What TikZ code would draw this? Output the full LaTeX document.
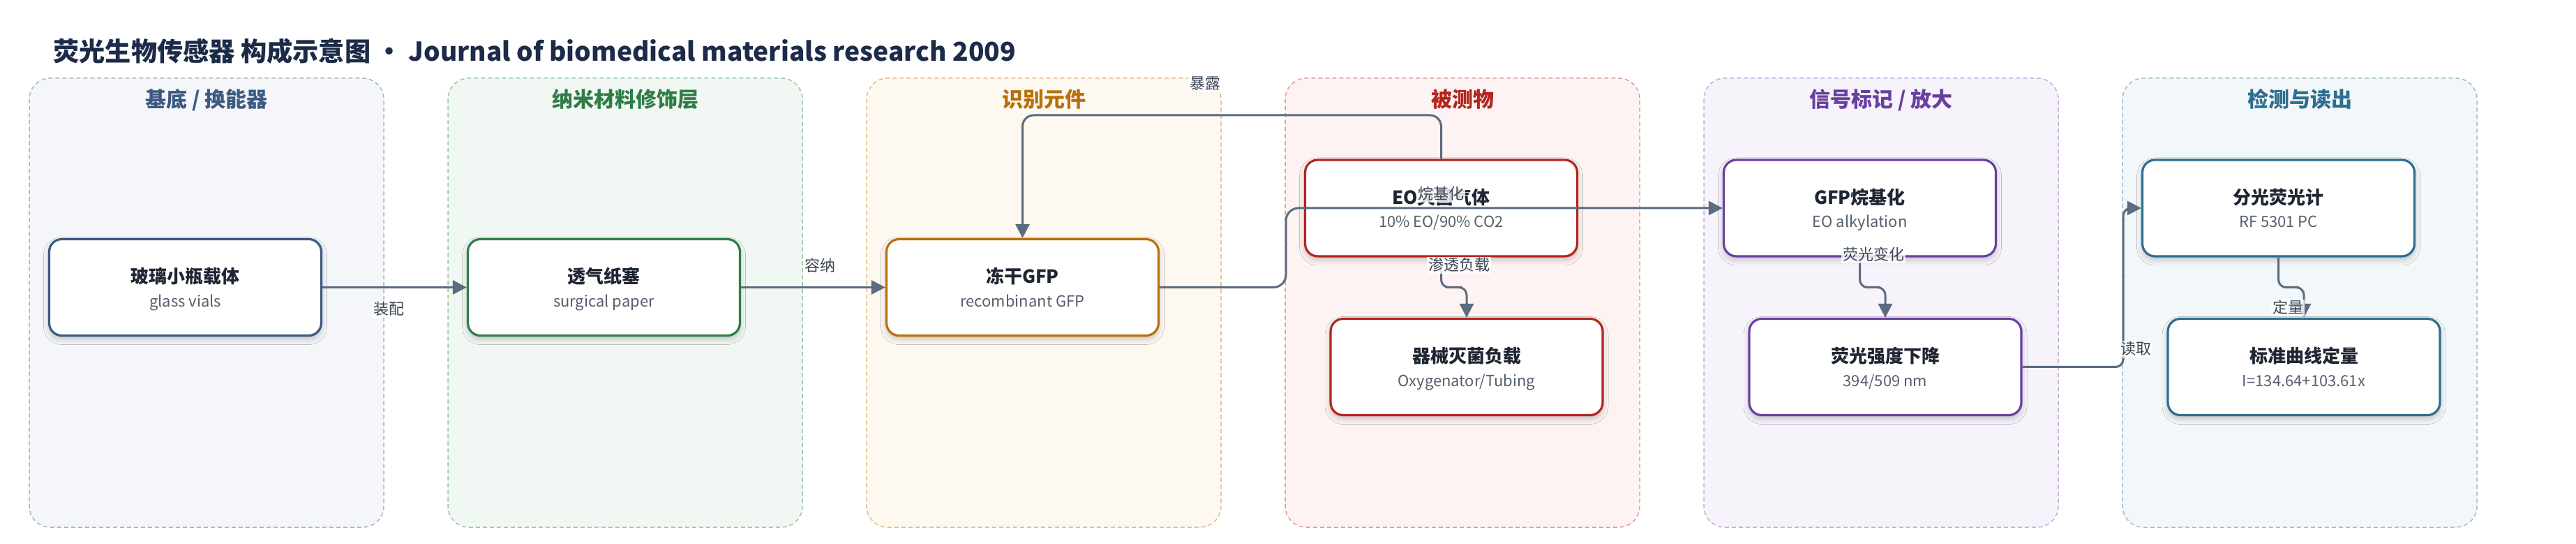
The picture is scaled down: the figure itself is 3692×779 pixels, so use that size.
\documentclass[tikz,border=0pt]{standalone}
\usepackage{fontspec}
\setmainfont{Noto Sans CJK SC}
\usetikzlibrary{arrows.meta,shadows.blur}
\definecolor{edgec}{HTML}{5B6B80}
\definecolor{labc}{HTML}{3B4656}
\definecolor{titlec}{HTML}{1E2633}
\definecolor{subc}{HTML}{555F6D}
\definecolor{headc}{HTML}{1B2B48}
\definecolor{fA}{HTML}{F4F6FA}\definecolor{dA}{HTML}{A8B5C8}\definecolor{mA}{HTML}{3D5A80}
\definecolor{fB}{HTML}{F1F8F3}\definecolor{dB}{HTML}{9CC9A9}\definecolor{mB}{HTML}{2E7D46}
\definecolor{fC}{HTML}{FDF8F0}\definecolor{dC}{HTML}{E2BE84}\definecolor{mC}{HTML}{B8700A}
\definecolor{fD}{HTML}{FDF3F2}\definecolor{dD}{HTML}{E39A98}\definecolor{mD}{HTML}{B3261E}
\definecolor{fE}{HTML}{F6F3FB}\definecolor{dE}{HTML}{C4AEE0}\definecolor{mE}{HTML}{6A3FA0}
\definecolor{fF}{HTML}{F2F7F9}\definecolor{dF}{HTML}{9EC0CC}\definecolor{mF}{HTML}{2E6E8E}
\tikzset{
 lanebox/.style={draw=#1, line width=0.75pt, dash pattern=on 3pt off 2pt, rounded corners=15pt},
 lanetitle/.style={font=\fontsize{15pt}{17pt}\selectfont\bfseries, text=#1, inner sep=0pt, text height=0.88em, text depth=0.12em},
 flowbox/.style={draw=#1, line width=1.6pt, fill=white, rounded corners=9pt, minimum width=195pt, minimum height=69pt, inner sep=0pt,
   blur shadow={shadow xshift=0pt, shadow yshift=-2.5pt, shadow blur radius=4pt, shadow opacity=22}},
 flowtitle/.style={font=\fontsize{13pt}{15pt}\selectfont\bfseries, text=titlec, inner sep=0pt, text height=0.88em, text depth=0.12em},
 flowsub/.style={font=\fontsize{11pt}{13pt}\selectfont, text=subc, inner sep=0pt, text height=0.75em, text depth=0.1em},
 conn/.style={draw=edgec, line width=1.5pt, -{Triangle[length=10pt,width=10pt]}, rounded corners=5.5pt},
 elabel/.style={fill=white, fill opacity=0.8, text opacity=1, text=labc, inner sep=1pt, font=\fontsize{11pt}{13pt}\selectfont, text height=0.88em, text depth=0.12em},
}
\newcommand{\FlowBox}[6]{%
  \node[flowbox=#4] (#1) at (#2,#3) {};
  \node[flowtitle] (#1t) at ([yshift=6.75pt]#1.center) {#5};
  \node[flowsub] (#1s) at ([yshift=-10.75pt]#1.center) {#6};
}
\begin{document}
\begin{tikzpicture}[x=0.5pt,y=-0.5pt]
\useasboundingbox[fill=white] (0,0) rectangle (3692,779);
% title
\node[anchor=west, inner sep=0pt, font=\fontsize{18.6pt}{20pt}\selectfont\bfseries, text=headc, text height=0.88em, text depth=0.12em] (head) at (76,80)
  {荧光生物传感器 构成示意图 · Journal of biomedical materials research 2009};
% lanes
\draw[lanebox=dA, fill=fA] (42,112) rectangle (550,755);
\draw[lanebox=dB, fill=fB] (642,112) rectangle (1150,755);
\draw[lanebox=dC, fill=fC] (1242,112) rectangle (1750,755);
\draw[lanebox=dD, fill=fD] (1842,112) rectangle (2350,755);
\draw[lanebox=dE, fill=fE] (2442,112) rectangle (2950,755);
\draw[lanebox=dF, fill=fF] (3042,112) rectangle (3550,755);
\node[lanetitle=mA] (lt1) at (296,146) {基底 / 换能器};
\node[lanetitle=mB] (lt2) at (896,146) {纳米材料修饰层};
\node[lanetitle=mC] (lt3) at (1496,146) {识别元件};
\node[lanetitle=mD] (lt4) at (2096,146) {被测物};
\node[lanetitle=mE] (lt5) at (2696,146) {信号标记 / 放大};
\node[lanetitle=mF] (lt6) at (3296,146) {检测与读出};
% boxes
\FlowBox{b1}{265.5}{411.5}{mA}{玻璃小瓶载体}{glass vials}
\FlowBox{b2}{865.5}{411.5}{mB}{透气纸塞}{surgical paper}
\FlowBox{b3}{1465.5}{411.5}{mC}{冻干GFP}{recombinant GFP}
\FlowBox{b4}{2065.5}{298}{mD}{EO灭菌气体}{10\% EO/90\% CO2}
\FlowBox{b5}{2102}{525.5}{mD}{器械灭菌负载}{Oxygenator/Tubing}
\FlowBox{b6}{2665.5}{298}{mE}{GFP烷基化}{EO alkylation}
\FlowBox{b7}{2702}{525.5}{mE}{荧光强度下降}{394/509 nm}
\FlowBox{b8}{3265.5}{298}{mF}{分光荧光计}{RF 5301 PC}
\FlowBox{b9}{3302}{525.5}{mF}{标准曲线定量}{I=134.64+103.61x}
% connectors
\coordinate (c3) at (1465.5,165);
\coordinate (c4a) at (1843,411.5);
\coordinate (c4b) at (1843,298);
\coordinate (c5) at (2084,411.5);
\coordinate (c6) at (2684,411.5);
\coordinate (c7) at (3043,400);
\coordinate (c8) at (3284,411.5);
\draw[conn] (b1.east) -- (b2.west);
\draw[conn] (b2.east) -- (b3.west);
\draw[conn, rounded corners=8pt] (b4.north) |- (c3) -- (b3.north);
\draw[conn, rounded corners=9pt] (b3.east) -- (c4a) -- (c4b) -- (b6.west);
\draw[conn] (b4.south) |- (c5) -| (b5.north);
\draw[conn] (b6.south) |- (c6) -| (b7.north);
\draw[conn] (b7.east) -| (c7) |- (b8.west);
\draw[conn] (b8.south) |- (c8) -| (b9.north);
% labels
\node[elabel] (l1) at (557,443) {装配};
\node[elabel] (l2) at (1175,381) {容纳};
\node[elabel] (l3) at (1727,120) {暴露};
\node[elabel] (l4) at (2065,278) {烷基化};
\node[elabel] (l5) at (2091,380) {渗透负载};
\node[elabel] (l6) at (2685,365) {荧光变化};
\node[elabel] (l7) at (3061,500) {读取};
\node[elabel] (l8) at (3279,441) {定量};
\end{tikzpicture}
\end{document}
